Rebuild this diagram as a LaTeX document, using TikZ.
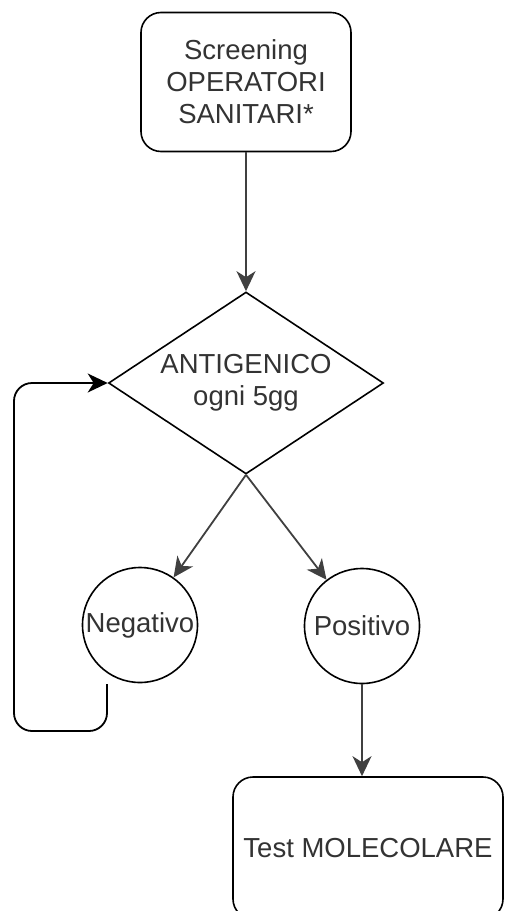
\documentclass[tikz,border=0pt]{standalone}
\usepackage{fontspec}
\setmainfont{Liberation Sans}
\usetikzlibrary{shapes.geometric,arrows.meta}
\definecolor{txtgray}{HTML}{333333}

\begin{document}
\begin{tikzpicture}[x=1pt,y=-1pt,font=\fontsize{27.5}{32}\selectfont,
  stepbox/.style={shape=rectangle,draw=black,line width=1.6pt,rounded corners=20pt,align=center,text=txtgray},
  decision/.style={shape=diamond,draw=black,line width=1.6pt,aspect=1.5,inner sep=0pt,minimum width=275pt,minimum height=182pt,align=center,text=txtgray},
  outcome/.style={shape=circle,draw=black,line width=1.6pt,inner sep=0pt,minimum size=115pt,text=txtgray},
  flow/.style={line width=1.8pt,draw=black!75,-{Stealth[length=20pt,width=19pt,inset=6pt]}}]
\useasboundingbox (0,0) rectangle (505,911);
\node[stepbox,minimum width=210pt,minimum height=139pt] (S) at (246,82) {Screening\\OPERATORI\\SANITARI*};
\node[decision] (A) at (246,383) {ANTIGENICO\\ogni 5gg};
\node[outcome] (N) at (140,625) {Negativo};
\node[outcome] (P) at (362,626) {Positivo};
\node[stepbox,minimum width=270pt,minimum height=142pt] (M) at (368,848) {Test MOLECOLARE};
\coordinate (L1) at (107,684);
\coordinate (L2) at (14,731);
\draw[flow] (S) -- (A);
\draw[flow] (A.south) -- (N);
\draw[flow] (A.south) -- (P);
\draw[flow] (P) -- (P |- M.north);
\draw[flow,draw=black,rounded corners=18pt] (L1) |- (L2) |- (A.west);
\end{tikzpicture}
\end{document}
